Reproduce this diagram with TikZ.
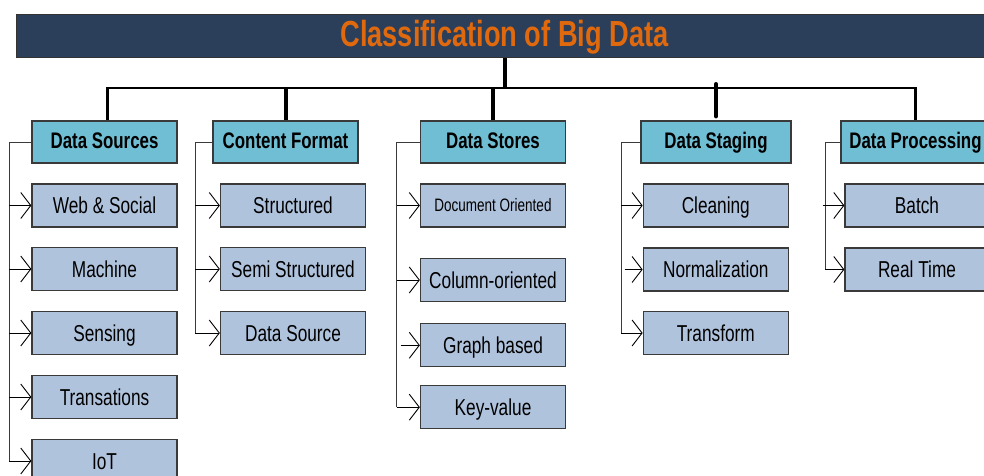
\documentclass[tikz,border=0pt]{standalone}
\usepackage{fontspec}
\setmainfont{Liberation Sans}[FakeStretch=0.75]
\usetikzlibrary{arrows.meta,calc}
\definecolor{navy}{HTML}{2C3F5A}
\definecolor{titleor}{HTML}{E0690E}
\definecolor{catfill}{HTML}{70BED3}
\definecolor{itemfill}{HTML}{B0C3DD}
\definecolor{edge}{HTML}{3A3A3A}
\begin{document}
\begin{tikzpicture}[x=1pt,y=-1pt,
  cat/.style={draw=edge,line width=1.3pt,fill=catfill,minimum width=145pt,minimum height=42pt,inner sep=0pt,
    font=\fontsize{22.5}{24}\selectfont\bfseries,text height=16.1pt,text depth=4pt},
  item/.style={draw=edge,line width=1.3pt,fill=itemfill,minimum width=145pt,minimum height=43pt,inner sep=0pt,
    font=\fontsize{23}{25}\selectfont,text height=16.5pt,text depth=0pt},
  bus/.style={line width=2.6pt,black},
  thickdrop/.style={line width=4pt,black},
  brk/.style={line width=1pt,edge},
  arr/.style={line width=1pt,black,-{Straight Barb[length=10pt,width=26pt,line width=0.9pt]}}
]
\useasboundingbox (0,0) rectangle (984,475);
% title bar
\node[draw=black!80,line width=1pt,fill=navy,minimum width=980pt,minimum height=43pt,inner sep=0pt,anchor=north west] (bar) at (16,14) {};
\node[anchor=base,text=titleor,font=\fontsize{36.3}{40}\selectfont\bfseries,inner sep=0pt] (title) at (504.5,46.5) {Classification of Big Data};

% categories
\node[cat] (ds) at (104.5,142) {Data Sources};
\node[cat] (cf) at (285.5,142) {Content Format};
\node[cat] (dst) at (493,142) {Data Stores};
\node[cat,minimum width=150pt] (stg) at (716,142) {Data Staging};
\node[cat,minimum width=149pt] (dp) at (915.5,142) {Data Processing};

% items: data sources
\node[item] (web) at (104.5,205.5) {Web \& Social};
\node[item] (mach) at (104.5,269) {Machine};
\node[item] (sens) at (104.5,333) {Sensing};
\node[item] (tran) at (104.5,397) {Transations};
\node[item] (iot) at (104.5,461) {IoT};
% content format
\node[item] (str) at (293,205.5) {Structured};
\node[item] (semi) at (293,269) {Semi Structured};
\node[item] (dsrc) at (293,333) {Data Source};
% data stores
\node[item,font=\fontsize{18}{20}\selectfont,text height=12.9pt] (doc) at (493,205.5) {Document Oriented};
\node[item] (col) at (493,280) {Column-oriented};
\node[item] (graph) at (493,345.3) {Graph based};
\node[item] (kv) at (493,407.2) {Key-value};
% data staging
\node[item] (clean) at (715.8,205.5) {Cleaning};
\node[item] (norm) at (715.8,269.5) {Normalization};
\node[item] (trans) at (715.8,333) {Transform};
% data processing
\node[item,minimum width=144pt] (batch) at (917,205.5) {Batch};
\node[item,minimum width=144pt] (rt) at (917,269.5) {Real Time};

% top tree
\coordinate (busL) at (107.7,88);
\coordinate (busR) at (915.7,88);
\draw[thickdrop] (bar.south -| title) ++(0,0) coordinate (stemtop) -- (stemtop |- busL);
\draw[bus,line join=miter] ([xshift=0pt]busL |- ds.north) -- (busL) -- (busR) -- (busR |- dp.north);
\draw[thickdrop] (cf.north) -- (cf.north |- busL);
\draw[thickdrop] (dst.north) -- (dst.north |- busL);
\draw[thickdrop,line cap=round] ($(stg.north)+(0,-4)$) -- ($(stg.north |- busL)+(0,-4)$);

% brackets
\coordinate (xds) at (9,0);
\coordinate (xcf) at (195.3,0);
\coordinate (xdst) at (396.7,0);
\coordinate (xstg) at (621,0);
\coordinate (xdp) at (825,0);

\draw[brk] (ds.west) -| (xds |- iot.west);
\foreach \n in {web,mach,sens,tran,iot} \draw[arr] (xds |- \n.west) -- (\n.west);

\draw[brk] (cf.west) -| (xcf |- dsrc.west);
\foreach \n in {str,semi,dsrc} \draw[arr] (xcf |- \n.west) -- (\n.west);

\draw[brk] (dst.west) -| (xdst |- kv.west);
\foreach \n in {doc,col,kv} \draw[arr] (xdst |- \n.west) -- (\n.west);
\draw[arr] ([xshift=-19pt]graph.west) -- (graph.west);

\draw[brk] (stg.west) -| (xstg |- trans.west);
\foreach \n in {clean,trans} \draw[arr] (xstg |- \n.west) -- (\n.west);
\draw[arr] ([xshift=-18pt]norm.west) -- (norm.west);

\draw[brk] (dp.west) -| (xdp |- rt.west);
\draw[arr] ([xshift=-2.5pt]xdp |- batch.west) -- (batch.west);
\draw[arr] (xdp |- rt.west) -- (rt.west);
\end{tikzpicture}
\end{document}
